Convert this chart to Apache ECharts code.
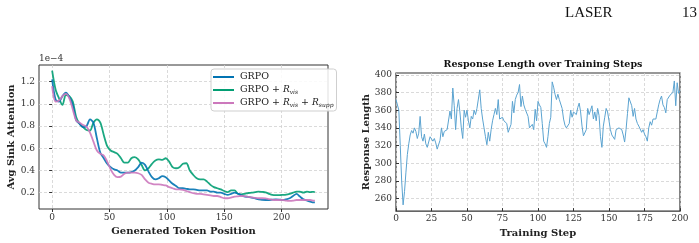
<!DOCTYPE html>
<html>
<head>
<meta charset="utf-8">
<script src="https://cdn.jsdelivr.net/npm/echarts@6/dist/echarts.min.js"></script>
<style>
  html, body { margin: 0; padding: 0; background: #fff; }
  #chart { width: 699px; height: 243px; }
</style>
</head>
<body>
<div id="chart"></div>
<script>
// left panel: sink attention (units of 1e-4) by generated token position
const tokenPos = [0, 3, 6, 9, 12, 15, 18, 21, 24, 27, 30, 33, 36, 39, 42, 45, 48, 51, 54, 57,
  60, 63, 66, 69, 72, 75, 78, 81, 84, 87, 90, 93, 96, 99, 102, 105, 108, 111, 114, 117,
  120, 123, 126, 129, 132, 135, 138, 141, 144, 147, 150, 153, 156, 159, 162, 165, 168, 171, 174, 177,
  180, 183, 186, 189, 192, 195, 198, 201, 204, 207, 210, 213, 216, 219, 222, 225, 228, 229];
const grpo = [1.22, 1.04, 1.02, 1.07, 1.10, 1.06, 0.99, 0.85, 0.82, 0.79, 0.80, 0.86, 0.83, 0.69, 0.56, 0.51, 0.46, 0.43, 0.41, 0.40,
  0.38, 0.38, 0.38, 0.385, 0.40, 0.43, 0.47, 0.45, 0.39, 0.34, 0.32, 0.33, 0.35, 0.34, 0.31, 0.28, 0.26, 0.24, 0.24, 0.235,
  0.23, 0.23, 0.225, 0.22, 0.22, 0.22, 0.21, 0.21, 0.20, 0.20, 0.19, 0.18, 0.19, 0.20, 0.19, 0.175, 0.165, 0.162, 0.155, 0.148,
  0.14, 0.135, 0.134, 0.134, 0.138, 0.14, 0.138, 0.134, 0.14, 0.15, 0.17, 0.19, 0.165, 0.14, 0.13, 0.12, 0.113, 0.113];
const grpoVis = [1.30, 1.13, 1.05, 0.99, 1.08, 1.07, 1.02, 0.88, 0.82, 0.79, 0.765, 0.76, 0.83, 0.86, 0.83, 0.72, 0.62, 0.58, 0.565, 0.55,
  0.51, 0.47, 0.47, 0.51, 0.52, 0.50, 0.45, 0.40, 0.42, 0.46, 0.49, 0.50, 0.495, 0.51, 0.48, 0.43, 0.42, 0.43, 0.46, 0.465,
  0.40, 0.36, 0.33, 0.32, 0.32, 0.30, 0.27, 0.25, 0.24, 0.23, 0.215, 0.205, 0.22, 0.22, 0.19, 0.185, 0.19, 0.197, 0.20, 0.205,
  0.21, 0.207, 0.203, 0.19, 0.18, 0.178, 0.178, 0.18, 0.183, 0.19, 0.20, 0.21, 0.21, 0.20, 0.21, 0.205, 0.208, 0.203];
const grpoVisSupp = [1.16, 1.02, 1.03, 1.07, 1.09, 1.05, 0.95, 0.85, 0.83, 0.81, 0.795, 0.74, 0.66, 0.58, 0.55, 0.535, 0.48, 0.41, 0.36, 0.34,
  0.345, 0.37, 0.38, 0.38, 0.38, 0.375, 0.36, 0.32, 0.29, 0.28, 0.275, 0.275, 0.27, 0.265, 0.25, 0.24, 0.23, 0.23, 0.225, 0.215,
  0.205, 0.195, 0.19, 0.19, 0.185, 0.18, 0.175, 0.17, 0.17, 0.16, 0.15, 0.15, 0.155, 0.164, 0.167, 0.17, 0.168, 0.162, 0.158, 0.153,
  0.15, 0.15, 0.148, 0.142, 0.136, 0.134, 0.134, 0.134, 0.128, 0.126, 0.128, 0.134, 0.134, 0.134, 0.134, 0.134, 0.128, 0.128];
const tokenTicks = [0, 50, 100, 150, 200];
const sinkTicks = [0.2, 0.4, 0.6, 0.8, 1.0, 1.2];

// right panel: response length per training step (0..200)
const respLen = [372, 370, 360, 320, 280, 253, 268, 290, 310, 322,
  332, 337, 334, 340, 336, 328, 334, 353, 330, 325,
  333, 322, 318, 320, 330, 332, 325, 328, 323, 316,
  318, 326, 340, 330, 336, 337, 338, 336, 359, 350,
  385, 365, 338, 362, 372, 358, 340, 328, 360, 352,
  360, 348, 340, 353, 350, 360, 355, 362, 360, 383,
  362, 350, 340, 330, 321, 335, 325, 338, 348, 355,
  362, 355, 372, 350, 348, 352, 348, 350, 345, 335,
  336, 344, 370, 357, 372, 377, 380, 389, 364, 376,
  366, 361, 360, 353, 340, 338, 344, 338, 361, 348,
  370, 366, 363, 345, 325, 322, 318, 330, 345, 352,
  392, 386, 378, 372, 378, 372, 370, 362, 350, 343,
  340, 340, 345, 360, 352, 358, 357, 355, 363, 368,
  358, 342, 331, 329, 338, 362, 355, 360, 365, 350,
  358, 348, 362, 354, 330, 318, 342, 352, 362, 358,
  348, 338, 332, 330, 327, 338, 336, 340, 340, 338,
  332, 324, 338, 356, 374, 374, 365, 353, 362, 350,
  345, 342, 340, 335, 338, 333, 330, 325, 340, 347,
  343, 350, 348, 350, 358, 366, 372, 376, 366, 363,
  357, 372, 372, 377, 378, 380, 393, 365, 391, 379,
  382];
const lenTicks = [260, 280, 300, 320, 340, 360, 380, 400];

const serif = 'DejaVu Serif';
const ink = '#222';
const gridLine = { show: true, lineStyle: { color: '#d0d0d0', width: 0.8, type: [3, 2] } };
const tickLabel = { fontFamily: serif, fontSize: 9, color: '#333' };
const axisTitle = { fontFamily: serif, fontSize: 10, fontWeight: 'bold', color: ink };

const chart = echarts.init(document.getElementById('chart'));

const leftSeries = [
  { name: 'GRPO', data: grpo, color: '#0173b2', z: 4 },
  { name: 'GRPO + R_vis', data: grpoVis, color: '#029e73', z: 3 },
  { name: 'GRPO + R_vis + R_supp', data: grpoVisSupp, color: '#cc78bc', z: 5 }
].map(s => ({
  name: s.name,
  type: 'line',
  xAxisIndex: 0,
  yAxisIndex: 0,
  showSymbol: false,
  symbol: 'none',
  smooth: 0.3,
  z: s.z,
  data: tokenPos.map((t, i) => [t, s.data[i]]),
  lineStyle: { color: s.color, width: 1.8, opacity: 0.9 },
  itemStyle: { color: s.color }
}));

const legendText = {
  'GRPO': '{n|GRPO}',
  'GRPO + R_vis': '{n|GRPO + }{r|R}{s|vis}',
  'GRPO + R_vis + R_supp': '{n|GRPO + }{r|R}{s|vis}{n| + }{r|R}{s|supp}'
};

const option = {
  animation: false,
  textStyle: { fontFamily: serif },
  title: [{
    text: 'Response Length over Training Steps',
    left: 538, top: 55, textAlign: 'center',
    textStyle: { fontFamily: serif, fontSize: 9.5, fontWeight: 'bold', color: '#111' }
  }],
  graphic: [
    { type: 'text', left: 565, top: 6, style: { text: 'LASER', font: '15px "Liberation Serif"', fill: '#111', letterSpacing: 1 } },
    { type: 'text', left: 682, top: 6, style: { text: '13', font: '15px "Liberation Serif"', fill: '#111' } },
    { type: 'text', left: 39, top: 54, style: { text: '1e\u22124', font: '9px "DejaVu Serif"', fill: '#333' } }
  ],
  legend: {
    data: leftSeries.map(s => s.name),
    orient: 'vertical',
    left: 211, top: 69,
    padding: [3, 3, 3, 2],
    itemGap: 3,
    itemWidth: 21,
    itemHeight: 2,
    icon: 'rect',
    backgroundColor: 'rgba(255,255,255,0.85)',
    borderColor: '#cfcfcf',
    borderWidth: 1,
    borderRadius: 3,
    formatter: name => legendText[name],
    textStyle: {
      color: ink,
      padding: [0, 0, 0, 1],
      rich: {
        n: { fontFamily: serif, fontSize: 9.5, color: ink, lineHeight: 10 },
        r: { fontFamily: serif, fontSize: 9, fontStyle: 'italic', color: ink, lineHeight: 10 },
        s: { fontFamily: serif, fontSize: 6, fontStyle: 'italic', color: ink, lineHeight: 10, verticalAlign: 'bottom', padding: [4, 0, 0, 0] }
      }
    }
  },
  grid: [
    { left: 39, top: 65, width: 289, height: 144, show: true, borderColor: '#333', borderWidth: 1, backgroundColor: 'transparent' },
    { left: 396, top: 73, width: 284, height: 140, show: true, borderColor: '#333', borderWidth: 1.2, backgroundColor: 'transparent' }
  ],
  xAxis: [
    {
      type: 'value', gridIndex: 0, min: -11.45, max: 240.45,
      name: 'Generated Token Position', nameLocation: 'middle', nameGap: 16, nameTextStyle: axisTitle,
      axisLine: { show: false },
      axisTick: { show: true, customValues: tokenTicks, length: 3, lineStyle: { color: '#333' } },
      axisLabel: Object.assign({ customValues: tokenTicks, margin: 4 }, tickLabel),
      splitLine: gridLine
    },
    {
      type: 'value', gridIndex: 1, min: 0, max: 200, interval: 25,
      name: 'Training Step', nameLocation: 'middle', nameGap: 13, nameTextStyle: axisTitle,
      axisLine: { show: false },
      axisTick: { show: true, inside: true, length: 3, lineStyle: { color: '#333' } },
      axisLabel: Object.assign({ margin: 3, showMinLabel: true, showMaxLabel: true }, tickLabel),
      splitLine: gridLine
    }
  ],
  yAxis: [
    {
      type: 'value', gridIndex: 0, min: 0.053, max: 1.35,
      name: 'Avg Sink Attention', nameLocation: 'middle', nameGap: 22, nameTextStyle: axisTitle,
      axisLine: { show: false },
      axisTick: { show: true, customValues: sinkTicks, length: 3, lineStyle: { color: '#333' } },
      axisLabel: Object.assign({ customValues: sinkTicks, margin: 4, formatter: v => v.toFixed(1) }, tickLabel),
      splitLine: gridLine
    },
    {
      type: 'value', gridIndex: 1, min: 246, max: 402,
      name: 'Response Length', nameLocation: 'middle', nameGap: 21, nameTextStyle: axisTitle,
      axisLine: { show: false },
      axisTick: { show: true, inside: true, customValues: lenTicks, length: 3, lineStyle: { color: '#333' } },
      axisLabel: Object.assign({ customValues: lenTicks, margin: 4 }, tickLabel),
      splitLine: gridLine
    }
  ],
  series: leftSeries.concat([{
    name: 'Response Length',
    type: 'line',
    xAxisIndex: 1,
    yAxisIndex: 1,
    showSymbol: false,
    symbol: 'none',
    data: respLen.map((v, i) => [i, v]),
    lineStyle: { color: '#5ba3d0', width: 1 },
    itemStyle: { color: '#5ba3d0' }
  }])
};

chart.setOption(option);
</script>
</body>
</html>
